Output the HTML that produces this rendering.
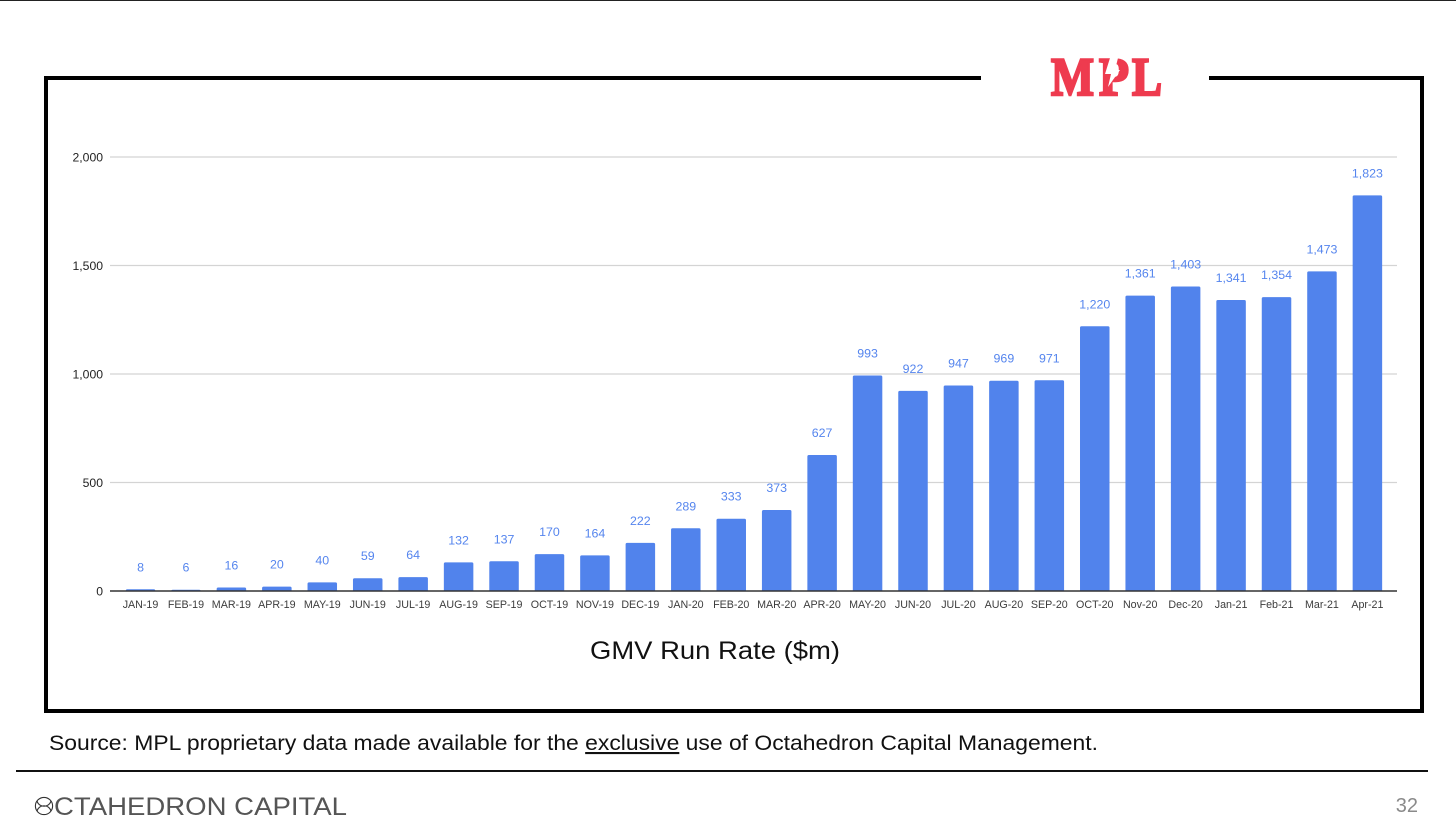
<!DOCTYPE html>
<html lang="en">
<head>
<meta charset="utf-8">
<title>GMV Run Rate</title>
<style>
html,body{margin:0;padding:0;background:#fff;width:1456px;height:840px;overflow:hidden}
svg{display:block;font-family:"Liberation Sans",sans-serif}
</style>
</head>
<body>
<svg id="slide" width="1456" height="840" viewBox="0 0 1456 840" xmlns="http://www.w3.org/2000/svg">
  <rect x="0" y="0" width="1456" height="840" fill="#ffffff"/>
  <rect x="0" y="0" width="1456" height="1" fill="#222"/>
  <rect x="46" y="78" width="1376" height="633" fill="none" stroke="#000" stroke-width="4"/>
  <rect x="981" y="70" width="228" height="14" fill="#fff"/>
  <g font-family="'Liberation Serif',serif" font-weight="700" font-size="54" fill="#ee3b4f" stroke="#ee3b4f" stroke-width="2.4">
    <text x="1051" y="95" textLength="43" lengthAdjust="spacingAndGlyphs">M</text>
    <text x="1099" y="95" textLength="30" lengthAdjust="spacingAndGlyphs">P</text>
    <text x="1132" y="95" textLength="30" lengthAdjust="spacingAndGlyphs">L</text>
    <polygon points="1110,58 1118,58 1115,70 1120,70 1108,87 1111,74 1105,74" fill="#fff" stroke="none"/>
  </g>
  <g id="chart"></g>
  <text x="715" y="659" text-anchor="middle" font-size="25" fill="#111" textLength="250" lengthAdjust="spacingAndGlyphs">GMV Run Rate ($m)</text>
  <text x="49" y="750" font-size="21" fill="#111" textLength="1049" lengthAdjust="spacingAndGlyphs">Source: MPL proprietary data made available for the <tspan text-decoration="underline">exclusive</tspan> use of Octahedron Capital Management.</text>
  <rect x="16" y="770" width="1412" height="2" fill="#111"/>
  <g>
    <circle cx="44" cy="806" r="8.6" fill="none" stroke="#333" stroke-width="1.1"/>
    <path d="M37 801C39 808 49 808 51 801" fill="none" stroke="#333" stroke-width="1.1"/>
    <path d="M37 811C39 804 49 804 51 811" fill="none" stroke="#333" stroke-width="1.1"/>
    <text x="54" y="815" font-size="25" fill="#555" textLength="293" lengthAdjust="spacingAndGlyphs">CTAHEDRON CAPITAL</text>
  </g>
  <text x="1418" y="812" text-anchor="end" font-size="20" fill="#8a8a8a">32</text>
</svg>
<script>
var categories = ["JAN-19","FEB-19","MAR-19","APR-19","MAY-19","JUN-19","JUL-19","AUG-19","SEP-19","OCT-19","NOV-19","DEC-19","JAN-20","FEB-20","MAR-20","APR-20","MAY-20","JUN-20","JUL-20","AUG-20","SEP-20","OCT-20","Nov-20","Dec-20","Jan-21","Feb-21","Mar-21","Apr-21"];
var gmvRunRate = [8,6,16,20,40,59,64,132,137,170,164,222,289,333,373,627,993,922,947,969,971,1220,1361,1403,1341,1354,1473,1823];
var yTicks = [0,500,1000,1500,2000];

var NS = "http://www.w3.org/2000/svg";
var chart = document.getElementById("chart");
var plot = {left:110, right:1397, bandStart:117.8, bandStep:45.44, baseY:591, topY:157, yMax:2000, barWidth:29.5};

function xBand(i){ return plot.bandStart + plot.bandStep * (i + 0.5); }
function yScale(v){ return plot.baseY - (v / plot.yMax) * (plot.baseY - plot.topY); }
function fmt(v){ return v.toLocaleString("en-US"); }
function make(tag, attrs, text){
  var el = document.createElementNS(NS, tag);
  for (var k in attrs) el.setAttribute(k, attrs[k]);
  if (text !== undefined) el.textContent = text;
  chart.appendChild(el);
  return el;
}

yTicks.forEach(function(t){
  if (t !== 0) {
    var grid = make("line", {x1:plot.left, x2:plot.right, y1:yScale(t), y2:yScale(t), stroke:"#d4d4d4", "stroke-width":1.3});
    
    
  }
  var lab = make("text", {x:103, y:yScale(t)+4.3, "text-anchor":"end", "font-size":12.2, fill:"#222"}, fmt(t));
  
  
});

gmvRunRate.forEach(function(v, i){
  var cx = xBand(i), top = yScale(v), h = plot.baseY - top;
  var r = Math.min(1.5, h);
  var bar = make("path", {
    d:"M"+(cx-plot.barWidth/2)+" "+plot.baseY+"V"+(top+r)+"q0 -"+r+" 1.5 -"+r+"H"+(cx+plot.barWidth/2-1.5)+"q1.5 0 1.5 "+r+"V"+plot.baseY+"Z",
    fill:"#5183ec"
  });
  
  
  var val = make("text", {x:cx, y:top-18, "text-anchor":"middle", "font-size":12.4, fill:"#5585ee"}, fmt(v));
  
  
  var cat = make("text", {x:cx, y:608, "text-anchor":"middle", "font-size":10.7, fill:"#3c3c3c"}, categories[i]);
  
  
});

var axis = make("line", {x1:plot.left, x2:plot.right, y1:plot.baseY, y2:plot.baseY, stroke:"#333", "stroke-width":1.4});


</script>
</body>
</html>
